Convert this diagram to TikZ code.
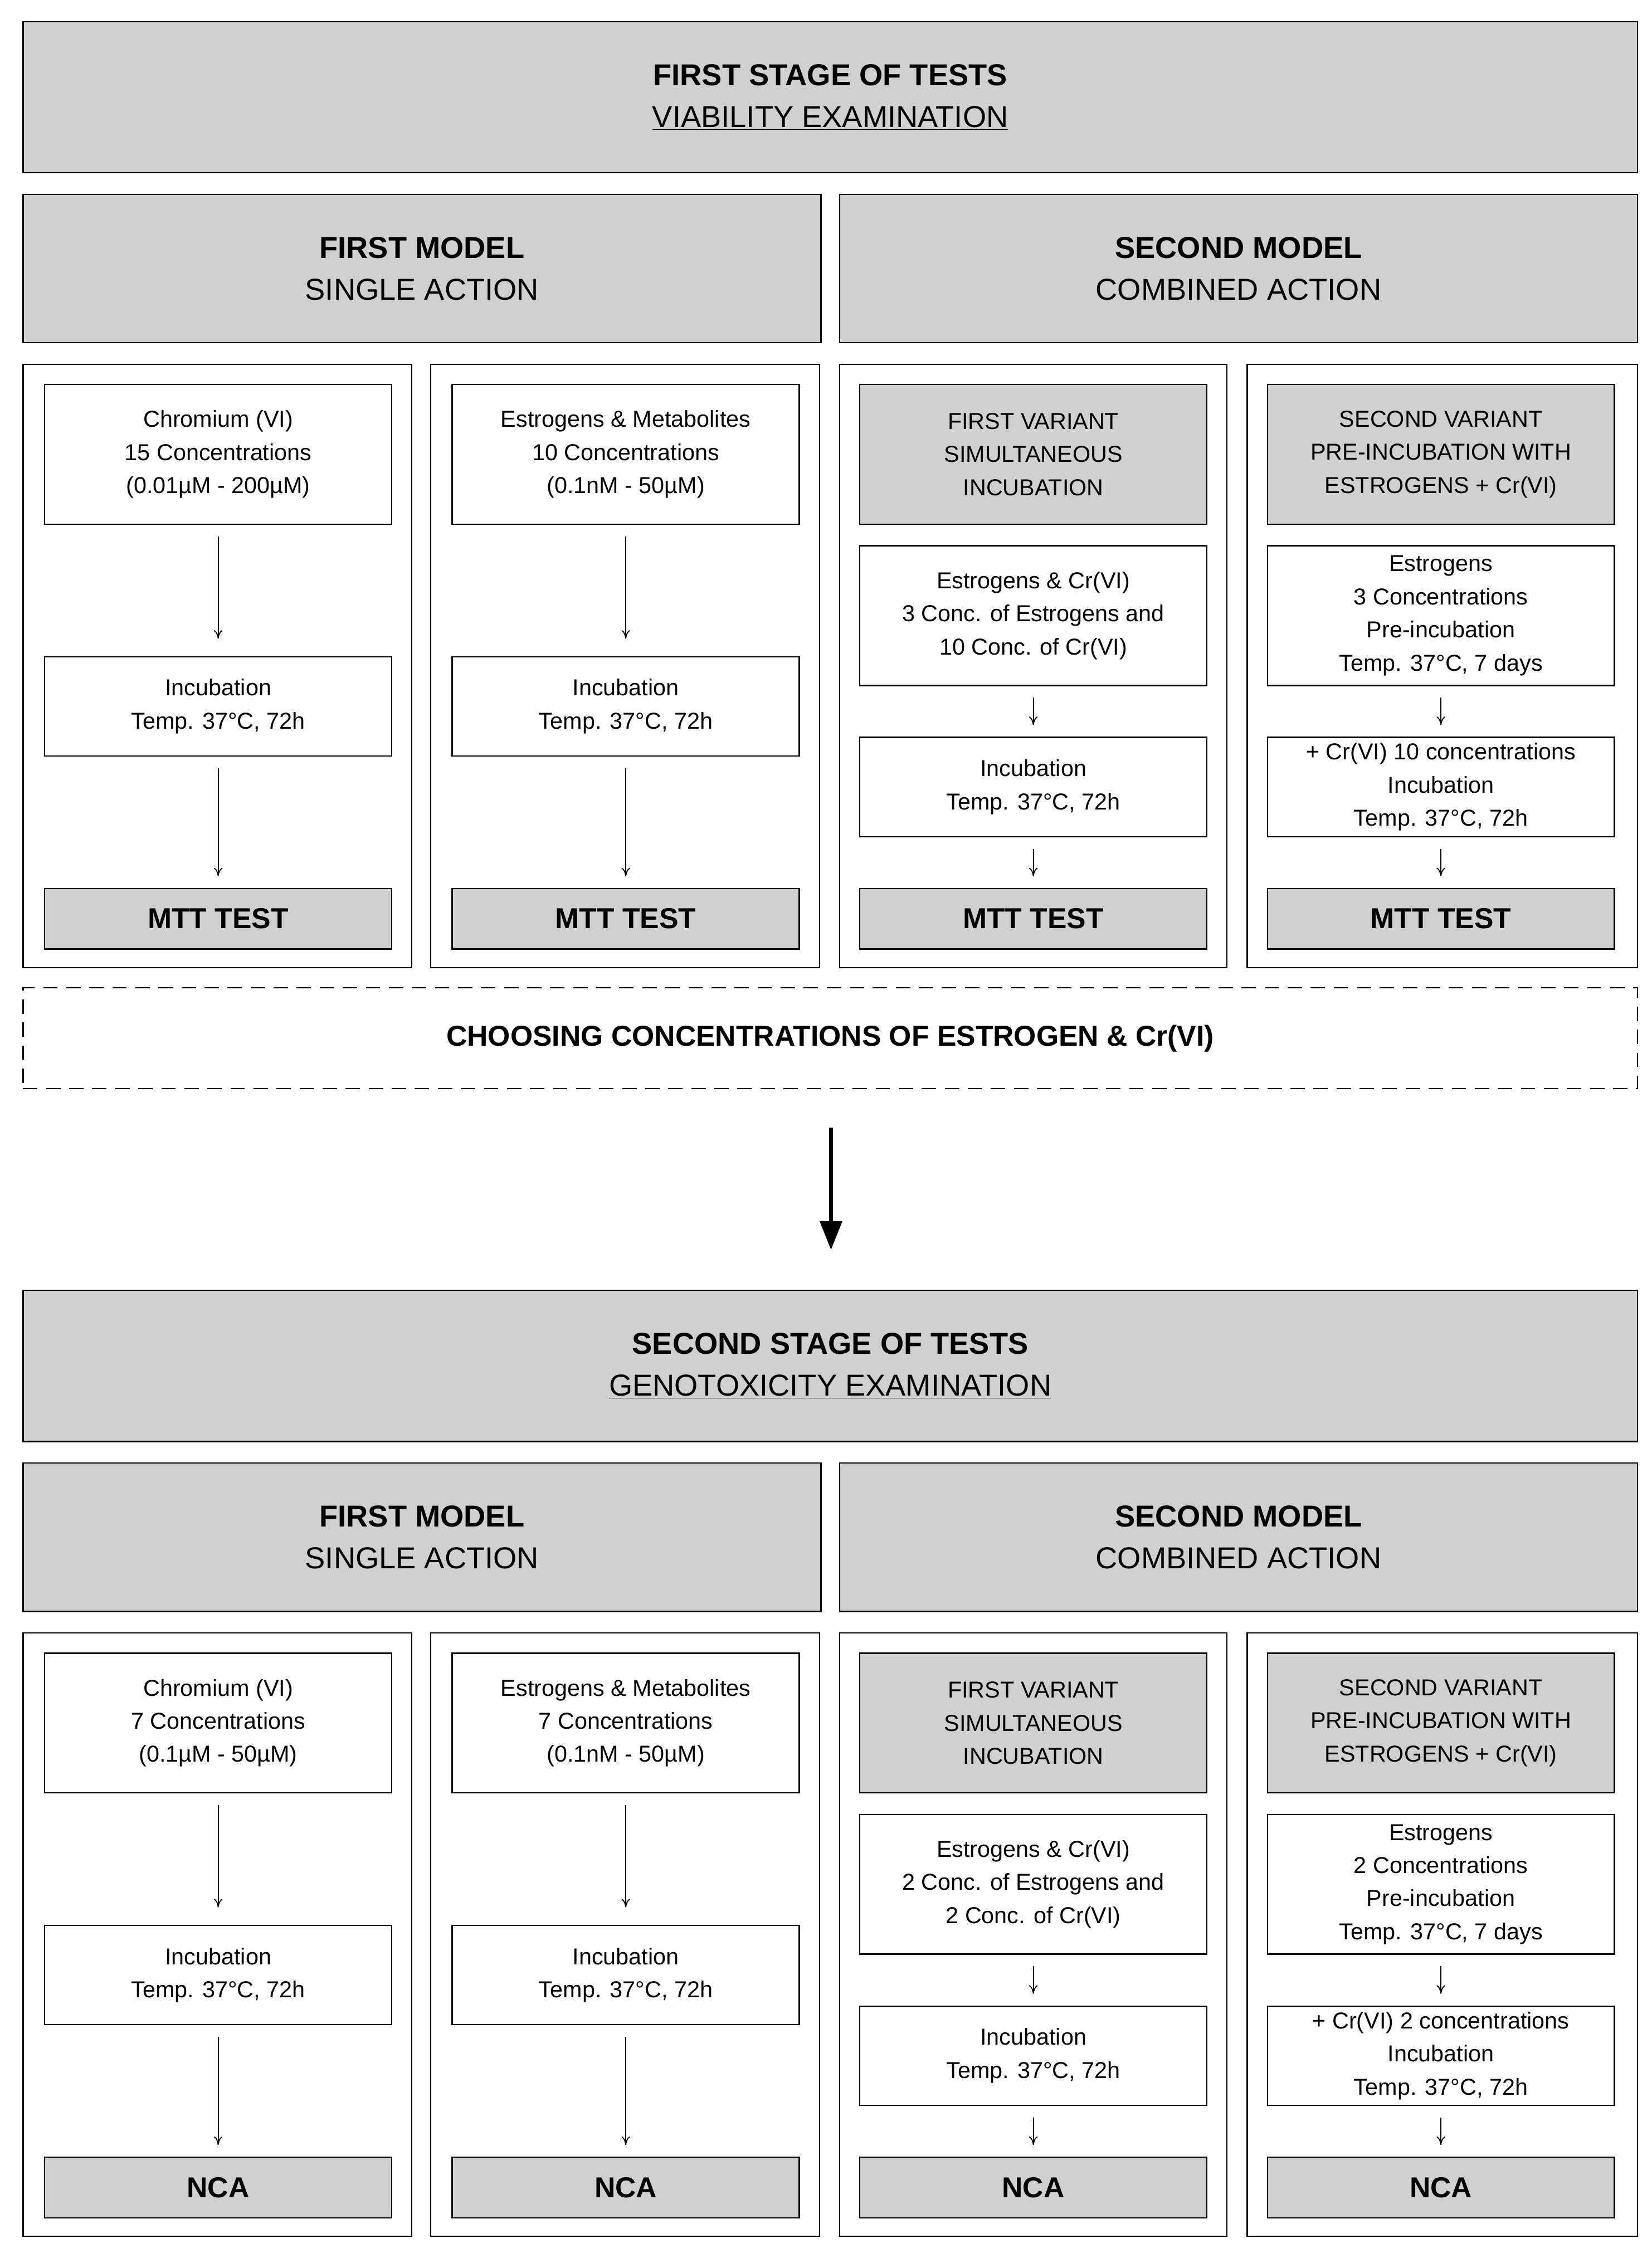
\documentclass[tikz,border=0pt]{standalone}
\usepackage{fontspec}
\setmainfont{Liberation Sans}
\usetikzlibrary{arrows.meta}
\definecolor{gf}{HTML}{D0D0D0}
\tikzset{
  b/.style={draw=black,line width=0.9pt,fill=white,align=center,inner sep=0pt,font=\fontsize{16}{23}\selectfont},
  g/.style={b,fill=gf},
  t/.style={g,font=\fontsize{21}{29}\selectfont},
  k/.style={g,font=\fontsize{20}{24}\selectfont\bfseries},
  o/.style={draw=black,line width=0.9pt,fill=none},
  a/.style={line width=0.7pt,-{To[length=6pt,width=6pt]}}
}
% \bx{name}{x1}{y1}{x2}{y2}{style}{text}
\newcommand\bx[7]{\node[#6,minimum width={(#4-#2)*1pt},minimum height={(#5-#3)*1pt}] (#1) at ({(#2+#4)/2},{(#3+#5)/2+\off}) {#7};}
\newcommand\mystage[2]{%
  \def\off{#1}
  \bx{top#2}{16}{15}{1137}{120}{t}{\textbf{\TA}\\\underline{\TB}}
  \bx{ma#2}{16}{135}{570}{238}{t}{\textbf{FIRST MODEL}\\SINGLE ACTION}
  \bx{mb#2}{583}{135}{1137}{238}{t}{\textbf{SECOND MODEL}\\COMBINED ACTION}
  \bx{oa#2}{16}{253}{286}{672}{o}{}
  \bx{ob#2}{299}{253}{569}{672}{o}{}
  \bx{oc#2}{583}{253}{852}{672}{o}{}
  \bx{od#2}{866}{253}{1137}{672}{o}{}
  \bx{a1#2}{31}{267}{272}{364}{b}{\CA}
  \bx{a2#2}{31}{456}{272}{525}{b}{Incubation\\Temp. 37°C, 72h}
  \bx{a3#2}{31}{617}{272}{659}{k}{\TT}
  \bx{b1#2}{314}{267}{555}{364}{b}{\CB}
  \bx{b2#2}{314}{456}{555}{525}{b}{Incubation\\Temp. 37°C, 72h}
  \bx{b3#2}{314}{617}{555}{659}{k}{\TT}
  \bx{c0#2}{597}{267}{838}{364}{g}{FIRST VARIANT\\SIMULTANEOUS\\INCUBATION}
  \bx{c1#2}{597}{379}{838}{476}{b}{\CC}
  \bx{c2#2}{597}{512}{838}{581}{b}{Incubation\\Temp. 37°C, 72h}
  \bx{c3#2}{597}{617}{838}{659}{k}{\TT}
  \bx{d0#2}{880}{267}{1121}{364}{g}{SECOND VARIANT\\PRE-INCUBATION WITH\\ESTROGENS + Cr(VI)}
  \bx{d1#2}{880}{379}{1121}{476}{b}{\CD}
  \bx{d2#2}{880}{512}{1121}{581}{b}{\CE}
  \bx{d3#2}{880}{617}{1121}{659}{k}{\TT}
  \draw[a] ([yshift=-8pt]a1#2.south) -- ([yshift=12pt]a2#2.north);
  \draw[a] ([yshift=-8pt]a2#2.south) -- ([yshift=8pt]a3#2.north);
  \draw[a] ([yshift=-8pt]b1#2.south) -- ([yshift=12pt]b2#2.north);
  \draw[a] ([yshift=-8pt]b2#2.south) -- ([yshift=8pt]b3#2.north);
  \draw[a] ([yshift=-8pt]c1#2.south) -- ([yshift=8pt]c2#2.north);
  \draw[a] ([yshift=-8pt]c2#2.south) -- ([yshift=8pt]c3#2.north);
  \draw[a] ([yshift=-8pt]d1#2.south) -- ([yshift=8pt]d2#2.north);
  \draw[a] ([yshift=-8pt]d2#2.south) -- ([yshift=8pt]d3#2.north);
}
\begin{document}
\begin{tikzpicture}[x=1pt,y=-1pt]
\useasboundingbox (0,0) rectangle (1147,1568);
\def\TA{FIRST STAGE OF TESTS}\def\TB{VIABILITY EXAMINATION}\def\TT{MTT TEST}
\def\CA{Chromium (VI)\\15 Concentrations\\(0.01µM - 200µM)}
\def\CB{Estrogens \& Metabolites\\10 Concentrations\\(0.1nM - 50µM)}
\def\CC{Estrogens \& Cr(VI)\\3 Conc. of Estrogens and\\10 Conc. of Cr(VI)}
\def\CD{Estrogens\\3 Concentrations\\Pre-incubation\\Temp. 37°C, 7 days}
\def\CE{+ Cr(VI) 10 concentrations\\Incubation\\Temp. 37°C, 72h}
\mystage{0}{u}
\def\off{0}
\bx{choose}{16}{686}{1137}{756}{b,dashed,dash pattern=on 10pt off 6pt,font=\fontsize{20}{24}\selectfont\bfseries}{CHOOSING CONCENTRATIONS OF ESTROGEN \& Cr(VI)}
\coordinate (bs) at (577,783);
\coordinate (be) at (577,868);
\draw[line width=3pt,-{Triangle[length=20pt,width=15pt]}] (bs) -- (be);
\def\TA{SECOND STAGE OF TESTS}\def\TB{GENOTOXICITY EXAMINATION}\def\TT{NCA}
\def\CA{Chromium (VI)\\7 Concentrations\\(0.1µM - 50µM)}
\def\CB{Estrogens \& Metabolites\\7 Concentrations\\(0.1nM - 50µM)}
\def\CC{Estrogens \& Cr(VI)\\2 Conc. of Estrogens and\\2 Conc. of Cr(VI)}
\def\CD{Estrogens\\2 Concentrations\\Pre-incubation\\Temp. 37°C, 7 days}
\def\CE{+ Cr(VI) 2 concentrations\\Incubation\\Temp. 37°C, 72h}
\mystage{881}{l}
\end{tikzpicture}
\end{document}
